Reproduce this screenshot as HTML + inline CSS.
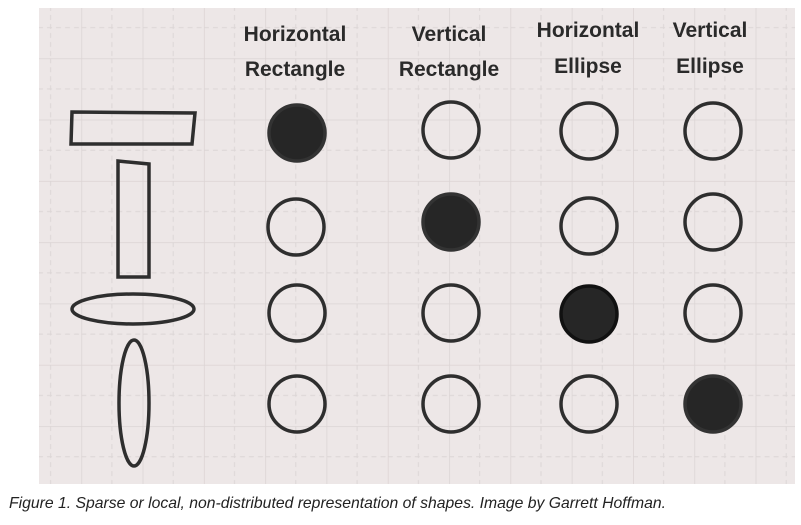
<!DOCTYPE html>
<html><head><meta charset="utf-8"><style>html,body{margin:0;padding:0;background:#fff;}svg{display:block}</style></head>
<body>
<svg width="801" height="525" viewBox="0 0 801 525" xmlns="http://www.w3.org/2000/svg">
<defs>
<pattern id="g" x="20" y="-3" width="61.3" height="61.3" patternUnits="userSpaceOnUse">
<line x1="30.6" y1="0" x2="30.6" y2="61.3" stroke="#dcd6d6" stroke-width="1" stroke-dasharray="5,4"/>
<line x1="0" y1="30.6" x2="61.3" y2="30.6" stroke="#dcd6d6" stroke-width="1" stroke-dasharray="5,4"/>
<line x1="0" y1="0" x2="0" y2="61.3" stroke="#dbd4d4" stroke-width="1.5"/>
<line x1="0" y1="0" x2="61.3" y2="0" stroke="#dbd4d4" stroke-width="1.5"/>
</pattern>
</defs>
<rect x="39" y="8" width="756" height="476" fill="#ede7e7"/>
<rect x="39" y="8" width="756" height="476" fill="url(#g)"/>
<g font-family="Liberation Sans, sans-serif" font-weight="bold" font-size="21" fill="#2a2a2a" text-anchor="middle">
<text x="295" y="41">Horizontal</text><text x="295" y="76">Rectangle</text>
<text x="449" y="41">Vertical</text><text x="449" y="76">Rectangle</text>
<text x="588" y="37">Horizontal</text><text x="588" y="73">Ellipse</text>
<text x="710" y="37">Vertical</text><text x="710" y="73">Ellipse</text>
</g>
<g fill="none" stroke="#2e2e2e" stroke-width="3.5">
<polygon points="72,112 195,113 192,144 71,144"/>
<polygon points="118,161 149,164 149,277 118,277"/>
<ellipse cx="133" cy="309" rx="61" ry="15"/>
<ellipse cx="134" cy="403" rx="15" ry="63"/>
</g>
<g stroke="#2e2e2e" stroke-width="3.5" fill="none">
<circle cx="297" cy="133" r="28" fill="#262626" stroke="#333"/>
<circle cx="451" cy="130" r="28"/>
<circle cx="589" cy="131" r="28"/>
<circle cx="713" cy="131" r="28"/>
<circle cx="296" cy="227" r="28"/>
<circle cx="451" cy="222" r="28" fill="#262626" stroke="#333"/>
<circle cx="589" cy="226" r="28"/>
<circle cx="713" cy="222" r="28"/>
<circle cx="297" cy="313" r="28"/>
<circle cx="451" cy="313" r="28"/>
<circle cx="589" cy="314" r="28" fill="#262626" stroke="#111"/>
<circle cx="713" cy="313" r="28"/>
<circle cx="297" cy="404" r="28"/>
<circle cx="451" cy="404" r="28"/>
<circle cx="589" cy="404" r="28"/>
<circle cx="713" cy="404" r="28" fill="#262626" stroke="#333"/>
</g>
<text x="9" y="508" font-family="Liberation Sans, sans-serif" font-style="italic" font-size="16" fill="#222" textLength="657" lengthAdjust="spacingAndGlyphs">Figure 1. Sparse or local, non-distributed representation of shapes. Image by Garrett Hoffman.</text>
</svg>
</body></html>
